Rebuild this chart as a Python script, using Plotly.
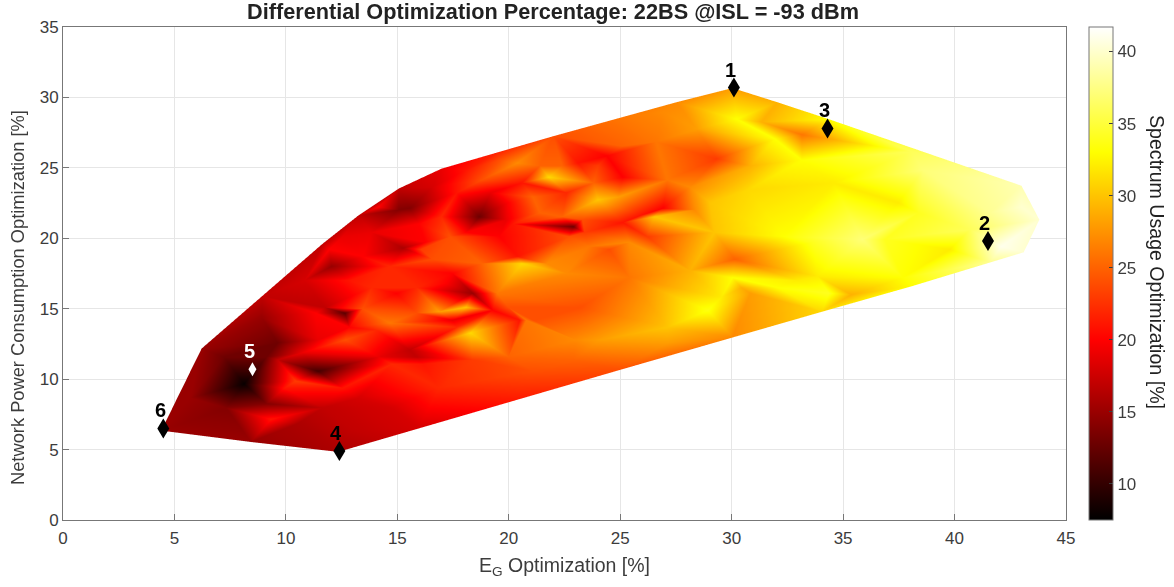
import plotly.graph_objects as go

# Surface vertices, grouped by region: E_G %, power %, spectrum %
edge_x = [4.5,6.3,9.0,11.7,13.3,15.1,17.0,19.5,22.0,25.0,27.5,30.0,32.0,34.3,38.0,42.9,43.7,43.0,41.5,38.0,34.0,30.0,25.0,20.0,16.0,12.4,8.5]
edge_y = [6.4,12.2,15.9,19.6,21.6,23.5,24.9,26.0,27.2,28.5,29.6,30.6,29.6,28.4,26.1,23.7,21.3,19.0,18.3,16.6,14.8,13.0,10.7,8.4,6.6,4.9,5.6]
edge_z = [15,15,17,17,17,17,19,22,24,26,27,28,29,33,36,39,40,40,38,33,31,27,24,21,18,16,15]

well_x = [8.2,7.3,9.2,9.2,7.4,9.7,10.0,9.4,11.5,10.5,10.8,11.7,12.6,13.3,14.8,14.8,10.6,13.0,5.8,9.7,9.0,11.5,12.7,14.1,15.6,14.2,16.2]
well_y = [9.7,11.6,11.6,8.3,8.0,11.4,9.4,7.2,10.6,9.9,11.9,8.0,9.4,8.7,11.1,8.0,6.9,6.4,8.7,12.6,14.4,12.8,12.8,13.5,12.1,11.6,11.1]
well_z = [8,13,13,14,14,17,21,21,11,23,19,17,21,18,22,18,16,17,15,13,15,19,24,22,17,19,21]

ridge_left_x = [12.7,11.8,13.5,15.9,14.7,12.9,11.4,12.1,10.9,12.9,12.0,13.5,13.9,12.6,15.3,14.7,16.0,15.1,14.2,16.1,15.0,13.9,15.9]
ridge_left_y = [14.7,15.1,15.0,14.7,14.0,13.7,14.7,18.0,17.0,17.0,19.2,18.7,20.4,20.1,19.3,18.0,21.0,22.0,22.2,19.2,16.1,16.5,16.5]
ridge_left_z = [12,17,24,24,26,20,20,15,18,21,20,20,19,19,16,22,20,14,20,23,20,22,22]

ridge_mid_x = [15.6,16.6,17.7,18.1,18.8,19.2,18.7,19.9,20.0,21.1,20.6,19.6,20.4,21.4,21.8,22.6,22.4,23.1,23.8,24.0,22.9,22.4,23.3,22.7,23.4,21.4,20.2,19.6,20.4,20.6,21.7,18.8,17.4,18.1,17.0,16.3,16.6,17.5,18.4,17.2,19.5,20.0,20.8,19.3,18.1,16.9,17.5,22.6]
ridge_mid_y = [22.1,23.6,23.2,24.8,24.1,23.2,21.5,21.3,22.5,22.9,23.9,25.5,25.3,25.1,24.3,23.2,25.1,25.3,23.9,25.1,20.8,21.5,21.3,20.1,20.4,21.8,21.0,20.1,18.7,18.2,18.2,18.2,20.1,20.4,21.5,19.7,18.5,17.5,16.1,16.8,16.1,15.1,14.2,14.9,15.1,14.8,14.2,17.5]
ridge_mid_z = [14,18,21,21,24,19,13,19,20,25,21,24,27,25,31,22,25,21,25,23,13,25,24,24,23,25,21,20,21,31,27,25,24,20,22,20,24,20,15,20,26,24,26,20,30,28,19,27]

ridge_high_x = [30.2,29.3,28.4,26.9,26.6,25.1,24.4,25.1,24.0,24.9,25.1,25.9,26.9,28.3,26.2,25.4,24.5,26.5,29.0,30.1,29.2,32.3,30.7,30.8,32.5,27.1,28.1,23.6,28.1,25.4,30.4]
ridge_high_y = [28.4,25.6,27.7,28.9,26.8,26.5,25.8,24.3,22.7,22.9,21.1,21.6,22.1,22.0,20.1,19.7,19.2,21.5,22.5,18.5,20.4,20.1,23.4,25.1,27.0,24.1,23.6,19.4,17.7,17.2,16.5]
ridge_high_z = [33,23,28,27,26,25,20,20,30,28,21,21,20,27,23,27,24,30,30,25,30,33,31,29,30,26,27,26,29,26,29]

lower_x = [23.2,28.9,30.0,24.1,23.0,22.9,18.3,17.7,15.9,16.9,20.0,18.4,21.1,27.1,27.1,21.1,20.5]
lower_y = [15.1,14.9,17.2,12.8,12.8,11.4,13.3,13.7,11.6,9.4,11.6,11.4,10.6,13.7,12.6,14.2,14.2]
lower_z = [24,33.5,33,28,27,25,31,22,17,22,25,23,24,30,28,24,21]

right_x = [30.8,29.5,32.0,32.9,33.8,34.3,35.3,37.6,35.8,33.6,34.5,37.4,38.3,39.7,40.6,38.5,33.1,31.9,33.1,31.3,42.0,41.5,42.9,36.8]
right_y = [16.1,15.8,16.5,17.0,17.3,16.1,16.0,17.2,19.9,19.7,23.9,22.5,21.8,19.2,20.6,24.8,25.5,27.0,27.3,28.2,19.4,21.8,22.2,19.9]
right_z = [28,32,33,32,32,34,29,33,37,34,32,32,34,32,36,37,33,33,26,29,41,38,40,34]

x_opt = edge_x + well_x + ridge_left_x + ridge_mid_x + ridge_high_x + lower_x + right_x
y_opt = edge_y + well_y + ridge_left_y + ridge_mid_y + ridge_high_y + lower_y + right_y
z_opt = edge_z + well_z + ridge_left_z + ridge_mid_z + ridge_high_z + lower_z + right_z

marker_x = [30.1,41.5,34.3,12.4,8.5,4.5]
marker_y = [30.7,19.8,27.8,4.9,10.7,6.5]
marker_labels = ["1","2","3","4","5","6"]
marker_colors = ["black","black","black","black","white","black"]
marker_halfsize = [[6,10],[6,10],[6,10],[6,10],[4,7],[6,10]]

hot = [[0,"#000000"],[0.365,"#ff0000"],[0.746,"#ffff00"],[1,"#ffffff"]]
GREY = "#3c3c3c"
FONT = "Liberation Sans"
SCALE = 2.01

fig = go.Figure()
fig.add_trace(go.Scatter(x=[None], y=[None], showlegend=False, xaxis="x", yaxis="y"))
fig.add_trace(go.Mesh3d(
    x=x_opt, y=y_opt, z=[0]*len(x_opt), intensity=z_opt,
    alphahull=-1, delaunayaxis="z",
    colorscale=hot, cmin=7.5, cmax=41.7,
    flatshading=False, hoverinfo="skip",
    lighting=dict(ambient=1, diffuse=0, specular=0, roughness=1, fresnel=0),
    colorbar=dict(x=1.023, xanchor="left", y=0, yanchor="bottom", len=1, lenmode="fraction",
                  thickness=24, thicknessmode="pixels", xpad=0, ypad=0,
                  ticks="inside", ticklen=4, tickcolor=GREY, tickvals=[10,15,20,25,30,35,40],
                  tickfont=dict(family=FONT, size=17, color=GREY),
                  outlinecolor="#777", outlinewidth=1),
))

shapes = []
for mx, my, mc, (hw, hh) in zip(marker_x, marker_y, marker_colors, marker_halfsize):
    shapes.append(dict(type="path", xref="x", yref="y", xsizemode="pixel", ysizemode="pixel",
                       xanchor=mx, yanchor=my, layer="above",
                       path=f"M 0 {-hh} L {hw} 0 L 0 {hh} L {-hw} 0 Z",
                       fillcolor=mc, line=dict(color=mc, width=0)))
annotations = [dict(x=mx, y=my, xref="x", yref="y", text=f"<b>{t}</b>", showarrow=False,
                    yshift=18, xshift=-3, font=dict(family=FONT, size=20, color=mc))
               for mx, my, t, mc in zip(marker_x, marker_y, marker_labels, marker_colors)]
annotations.append(dict(x=(18-63)/1003, y=(520-298)/493, xref="paper", yref="paper", xanchor="center", yanchor="middle",
                        text="Network Power Consumption Optimization [%]", textangle=-90, showarrow=False,
                        font=dict(family=FONT, size=18.3, color=GREY)))
annotations.append(dict(x=(1157-63)/1003, y=(520-262)/493, xref="paper", yref="paper", xanchor="center", yanchor="middle",
                        text="Spectrum Usage Optimization [%]", textangle=90, showarrow=False,
                        font=dict(family=FONT, size=19.6, color="#222")))

axis_common = dict(showline=True, mirror=True, linecolor="#777", linewidth=1, ticks="inside", ticklen=6,
                   tickcolor="#777", showgrid=True, gridcolor="#e6e6e6", gridwidth=1, zeroline=False,
                   tickfont=dict(family=FONT, size=17, color=GREY))
hidden = dict(visible=False, showgrid=False, zeroline=False, showbackground=False, showspikes=False)
fig.update_layout(
    width=1174, height=587, margin=dict(l=63, r=108, t=27, b=67),
    paper_bgcolor="white", plot_bgcolor="white", showlegend=False,
    title=dict(text="<b>Differential Optimization Percentage: 22BS @ISL = -93 dBm</b>", x=553/1174, xanchor="center",
               y=1-11/587, yanchor="middle", font=dict(family=FONT, size=21.7, color="#222")),
    xaxis=dict(range=[0,45], tickvals=list(range(0,50,5)), domain=[0,1], ticklabelstandoff=3,
               title=dict(text="E<sub>G</sub> Optimization [%]", standoff=10, font=dict(family=FONT, size=19.5, color=GREY)), **axis_common),
    yaxis=dict(range=[0,35], tickvals=list(range(0,40,5)), domain=[0,1], **axis_common),
    scene=dict(domain=dict(x=[0,1], y=[0,1]),
               xaxis=dict(range=[0,45], **hidden), yaxis=dict(range=[0,35], **hidden), zaxis=dict(range=[-1,1], **hidden),
               aspectmode="manual", aspectratio=dict(x=SCALE*1003/493, y=SCALE, z=0.1),
               bgcolor="rgba(0,0,0,0)",
               camera=dict(projection=dict(type="orthographic"), eye=dict(x=0,y=0,z=2.5), up=dict(x=0,y=1,z=0), center=dict(x=0,y=0,z=0))),
    shapes=shapes, annotations=annotations,
)
fig.write_html("out.html", config=dict(displayModeBar=False),
               post_script="document.body.style.margin='0';")
